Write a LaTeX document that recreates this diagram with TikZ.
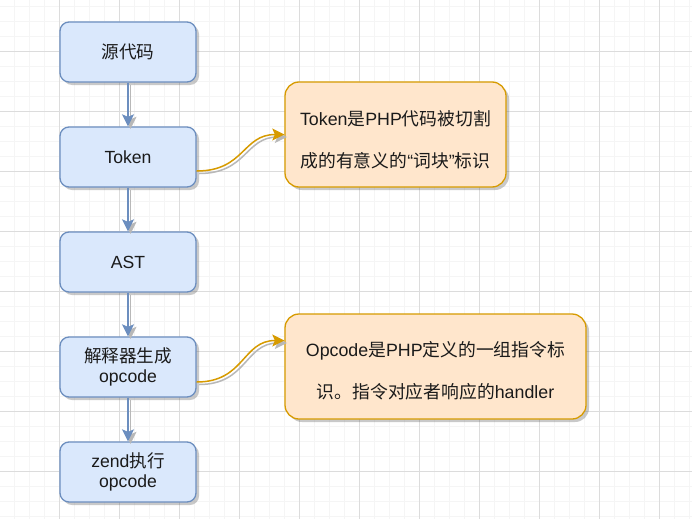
\documentclass[tikz,border=0pt]{standalone}
\usepackage{fontspec}
\setmainfont{Liberation Sans}
\newfontfamily\cjk{Noto Sans CJK SC}
\usetikzlibrary{arrows.meta,shadows}
\definecolor{bfill}{HTML}{DAE8FC}
\definecolor{bline}{HTML}{6C8EBF}
\definecolor{ofill}{HTML}{FFE6CC}
\definecolor{oline}{HTML}{D79B00}
\definecolor{gminor}{HTML}{F5F5F5}
\definecolor{gmajor}{HTML}{DCDCDC}
\definecolor{txt}{HTML}{1A1A1A}
\newcommand{\zh}[1]{{\cjk #1}}
\begin{document}
\begin{tikzpicture}[x=1pt,y=-1pt,
  boxshadow/.style={drop shadow={shadow xshift=3pt,shadow yshift=-3pt,opacity=0.35,fill=black!60}},
  bluebox/.style={draw=bline,fill=bfill,line width=1.3pt,rounded corners=9pt,
    minimum width=136pt,minimum height=60pt,align=center,text=txt,
    font=\fontsize{17.6}{20.6}\selectfont,boxshadow},
  orangebox/.style={draw=oline,fill=ofill,line width=1.3pt,rounded corners=14pt,
    minimum height=105pt,boxshadow},
  orangetext/.style={align=center,text=txt,font=\fontsize{17.8}{42}\selectfont},
  tip/.style={-{Stealth[length=12pt,width=12pt,inset=2.5pt,fill=#1]}},
  blueedge/.style={draw=bline,line width=1.5pt,tip=bline},
  orangeedge/.style={draw=oline,line width=1.5pt,tip=oline},
  edgeshadow/.style={draw=black!28,line width=1.5pt,tip=black!28,
    transform canvas={shift={(2.5pt,-2.5pt)}}},
]
\useasboundingbox (0,0) rectangle (692,519);
\fill[white] (0,0) rectangle (692,519);
\foreach \x in {14,29,...,689} \draw[gminor,line width=1pt] (\x,0) -- (\x,519);
\foreach \y in {6.3,21.3,...,517} \draw[gminor,line width=1pt] (0,\y) -- (692,\y);
\foreach \x in {59,119,...,689} \draw[gmajor,line width=1pt] (\x,0) -- (\x,519);
\foreach \y in {51.3,111.3,...,517} \draw[gmajor,line width=1pt] (0,\y) -- (692,\y);

\node[bluebox] (src) at (128,52) {\zh{源代码}};
\node[bluebox] (token) at (128,157) {Token};
\node[bluebox] (ast) at (128,262) {AST};
\node[bluebox] (gen) at (128,367) {\zh{解释器生成}\\opcode};
\node[bluebox] (exec) at (128,472) {zend\zh{执行}\\opcode};

\node[orangebox,minimum width=221pt] (o1) at (395.5,134.5) {};
\node[orangetext] (o1t) at ([yshift=-5pt]o1.center)
  {Token\zh{是}PHP\zh{代码被切割}\\\zh{成的有意义的}“\zh{词块}”\zh{标识}};
\node[orangebox,minimum width=301pt] (o2) at (435.5,366.5) {};
\node[orangetext] (o2t) at ([yshift=-4pt]o2.center)
  {Opcode\zh{是}PHP\zh{定义的一组指令标}\\\zh{识。指令对应者响应的}handler};

\coordinate (a1) at ([yshift=-14pt]token.east);
\coordinate (a2) at ([yshift=-15pt]gen.east);
\coordinate (b2) at ([yshift=26pt]o2.west);

\foreach \s/\t in {src/token,token/ast,ast/gen,gen/exec}{
  \draw[edgeshadow] (\s) -- (\t);
  \draw[blueedge] (\s) -- (\t);
}
\draw[edgeshadow] (a1) .. controls +(48,0) and +(-42,0) .. (o1.west);
\draw[orangeedge] (a1) .. controls +(48,0) and +(-42,0) .. (o1.west);
\draw[edgeshadow] (a2) .. controls +(48,0) and +(-42,0) .. (b2);
\draw[orangeedge] (a2) .. controls +(48,0) and +(-42,0) .. (b2);
\end{tikzpicture}
\end{document}
